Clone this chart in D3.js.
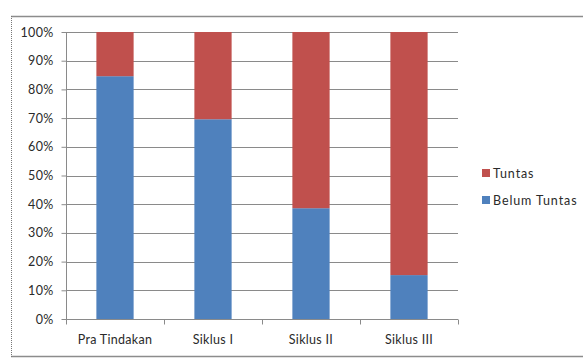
<!DOCTYPE html>
<html>
<head>
<meta charset="utf-8">
<script src="https://cdn.jsdelivr.net/npm/d3@7"></script>
<style>
  body { margin: 0; background: #fff; }
  text { font-family: Lato, "Open Sans", sans-serif; fill: #2a2a2a; }
</style>
</head>
<body>
<div id="chart"></div>
<script>
const categories = ['Pra Tindakan', 'Siklus I', 'Siklus II', 'Siklus III'];
const belumTuntas = [84.6, 69.6, 38.6, 15.3];
const tuntas = [15.4, 30.4, 61.4, 84.7];
const yTicks = [0, 10, 20, 30, 40, 50, 60, 70, 80, 90, 100];
const seriesNames = ['Belum Tuntas', 'Tuntas'];
const seriesColors = ['#4f81bd', '#c0504d'];

const W = 583, H = 358;
const margin = { top: 32, right: 125, bottom: 39, left: 66 };
const width = W - margin.left - margin.right;
const height = H - margin.top - margin.bottom;

const root = d3.select('#chart').append('svg')
    .attr('width', W)
    .attr('height', H);

// outer frame: solid top/bottom, dotted left
root.append('line').attr('x1', 11).attr('x2', W).attr('y1', 16.5).attr('y2', 16.5)
    .attr('stroke', '#8c8c8c').attr('stroke-width', 1.5);
root.append('line').attr('x1', 11).attr('x2', W).attr('y1', 356.5).attr('y2', 356.5)
    .attr('stroke', '#8c8c8c').attr('stroke-width', 1.5);
root.append('line').attr('x1', 11.5).attr('x2', 11.5).attr('y1', 16).attr('y2', 357)
    .attr('stroke', '#777').attr('stroke-dasharray', '1,1');

const svg = root.append('g')
    .attr('transform', `translate(${margin.left},${margin.top})`);

const x = d3.scaleBand().domain(categories).range([0, width]).paddingInner(0.62).paddingOuter(0.31);
const xTickScale = d3.scaleLinear().domain([0, categories.length]).range([0, width]);
const y = d3.scaleLinear().domain([0, 100]).range([height, 0]);

// gridlines
svg.append('g')
    .selectAll('line')
    .data(yTicks)
    .join('line')
    .attr('x1', 0).attr('x2', width)
    .attr('y1', d => Math.round(y(d)) + 0.5)
    .attr('y2', d => Math.round(y(d)) + 0.5)
    .attr('stroke', '#8a8a8a');

const stackData = categories.map((c, i) => ({ cat: c, 'Belum Tuntas': belumTuntas[i], 'Tuntas': tuntas[i] }));
const stack = d3.stack().keys(seriesNames)(stackData);

svg.append('g')
    .selectAll('g')
    .data(stack)
    .join('g')
    .attr('fill', (d, i) => seriesColors[i])
    .selectAll('rect')
    .data(d => d)
    .join('rect')
    .attr('x', d => x(d.data.cat))
    .attr('y', d => y(d[1]))
    .attr('width', x.bandwidth())
    .attr('height', d => y(d[0]) - y(d[1]));

// y axis
const yAxis = svg.append('g')
    .attr('transform', 'translate(0.5,0)')
    .call(d3.axisLeft(y).tickValues(yTicks).tickFormat(d => d + '%').tickSize(5).tickPadding(8));
yAxis.select('.domain').attr('stroke', '#8a8a8a').attr('d', `M0,${y(100)}V${height}`);
yAxis.selectAll('.tick line').attr('stroke', '#8a8a8a');
yAxis.selectAll('text').style('font-size', '12.5px').attr('fill', '#2a2a2a').style('letter-spacing', '0.3px');

// x axis
const xAxis = svg.append('g').attr('transform', `translate(0,${Math.round(height) + 0.5})`);
xAxis.append('line').attr('x1', 0).attr('x2', width).attr('stroke', '#8a8a8a');
xAxis.selectAll('.xt')
    .data(d3.range(categories.length + 1))
    .join('line')
    .attr('x1', d => Math.round(xTickScale(d)) + 0.5)
    .attr('x2', d => Math.round(xTickScale(d)) + 0.5)
    .attr('y1', 0).attr('y2', 5)
    .attr('stroke', '#8a8a8a');
xAxis.selectAll('text')
    .data(categories)
    .join('text')
    .attr('x', d => x(d) + x.bandwidth() / 2)
    .attr('y', 24)
    .attr('text-anchor', 'middle')
    .style('font-size', '12.5px')
    .style('letter-spacing', '0.3px')
    .text(d => d);

// legend
const legend = root.append('g').attr('transform', 'translate(482,173)');
const legendItems = seriesNames.slice().reverse();
legend.selectAll('g')
    .data(legendItems)
    .join('g')
    .attr('transform', (d, i) => `translate(0,${i * 27})`)
    .each(function (d) {
        const g = d3.select(this);
        g.append('rect').attr('x', 0).attr('y', -4).attr('width', 8).attr('height', 8)
            .attr('fill', seriesColors[seriesNames.indexOf(d)]);
        g.append('text').attr('x', 11).attr('y', 4.5).style('font-size', '12.5px')
            .style('letter-spacing', '0.9px').text(d);
    });
</script>
</body>
</html>
